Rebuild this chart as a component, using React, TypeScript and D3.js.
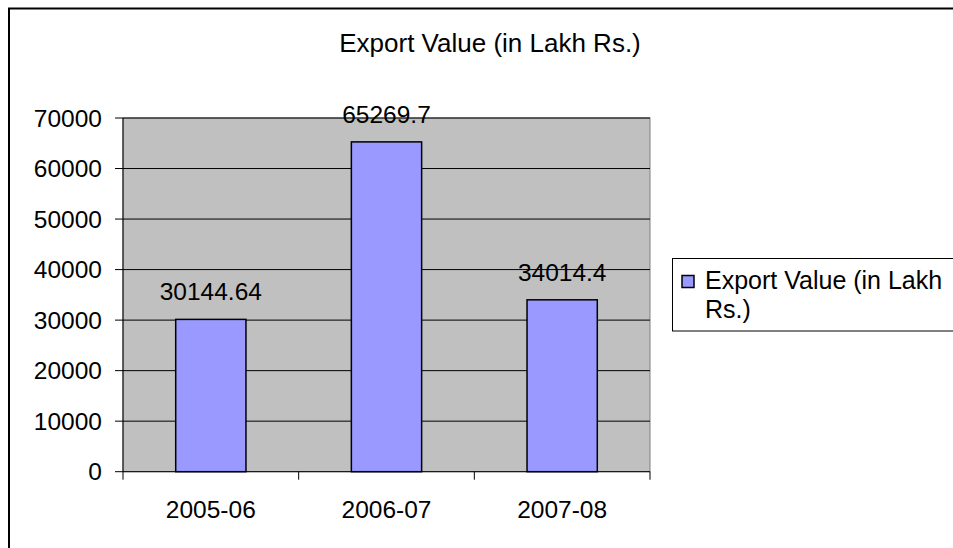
import React from "react";
import * as d3 from "d3";

const categories = ["2005-06", "2006-07", "2007-08"];
const values = [30144.64, 65269.7, 34014.4];
const valueLabels = ["30144.64", "65269.7", "34014.4"];
const yTicks = [0, 10000, 20000, 30000, 40000, 50000, 60000, 70000];
const title = "Export Value (in Lakh Rs.)";
const legendLines = ["Export Value (in Lakh", "Rs.)"];

const FONT = "'Liberation Sans', Arial, sans-serif";

export default function App() {
  const W = 953, H = 548;
  const left = 123, right = 650, top = 118, bottom = 471.7;
  const x = d3.scaleBand<string>().domain(categories).range([left, right]).paddingInner(0.6).paddingOuter(0.3);
  const y = d3.scaleLinear().domain([0, 70000]).range([bottom, top]);
  const boundaries = d3.range(categories.length + 1).map((i) => left + i * ((right - left) / categories.length));

  return (
    <svg width={W} height={H} style={{ position: "absolute", left: 0, top: 0, background: "#fff" }} fontFamily={FONT}>
      <rect x={0} y={0} width={W} height={H} fill="#fff" />
      {/* chart border */}
      <rect x={9} y={8.5} width={1000} height={600} fill="none" stroke="#000" strokeWidth={2} />
      {/* title */}
      <text x={490} y={52} fontSize={26} textAnchor="middle" fill="#000">{title}</text>
      {/* plot area */}
      <rect x={left} y={top} width={right - left} height={bottom - top} fill="#C0C0C0" stroke="#808080" strokeWidth={1} />
      {yTicks.filter((t) => t > 0).map((t) => (
        <line key={"g" + t} x1={left} x2={right} y1={y(t)} y2={y(t)} stroke="#000" strokeWidth={1} />
      ))}
      {/* bars */}
      {categories.map((c, i) => (
        <rect key={c} x={x(c)!} y={y(values[i])} width={x.bandwidth()} height={bottom - y(values[i])}
          fill="#9999FF" stroke="#000" strokeWidth={1.5} />
      ))}
      {/* axes */}
      <line x1={left} x2={left} y1={top} y2={bottom} stroke="#000" strokeWidth={1} />
      <line x1={left} x2={right} y1={bottom} y2={bottom} stroke="#000" strokeWidth={1} />
      {yTicks.map((t) => (
        <g key={"t" + t}>
          <line x1={left - 8} x2={left} y1={y(t)} y2={y(t)} stroke="#000" strokeWidth={1} />
          <text x={102} y={y(t)} dy="0.35em" fontSize={24.5} textAnchor="end" fill="#000">{t}</text>
        </g>
      ))}
      {boundaries.map((b, i) => (
        <line key={"b" + i} x1={b} x2={b} y1={bottom} y2={bottom + 8} stroke="#000" strokeWidth={1} />
      ))}
      {categories.map((c) => (
        <text key={"c" + c} x={x(c)! + x.bandwidth() / 2} y={518} fontSize={24.5} textAnchor="middle" fill="#000">{c}</text>
      ))}
      {/* data labels */}
      {categories.map((c, i) => (
        <text key={"l" + c} x={x(c)! + x.bandwidth() / 2} y={y(values[i]) - 19} fontSize={24.5} textAnchor="middle" fill="#000">{valueLabels[i]}</text>
      ))}
      {/* legend */}
      <rect x={672.5} y={258.5} width={400} height={72.5} fill="#fff" stroke="#000" strokeWidth={1} />
      <rect x={682} y={275.5} width={12} height={12} fill="#9999FF" stroke="#000" strokeWidth={1.5} />
      {legendLines.map((l, i) => (
        <text key={"lg" + i} x={705} y={289 + i * 29} fontSize={25} fill="#000">{l}</text>
      ))}
    </svg>
  );
}
